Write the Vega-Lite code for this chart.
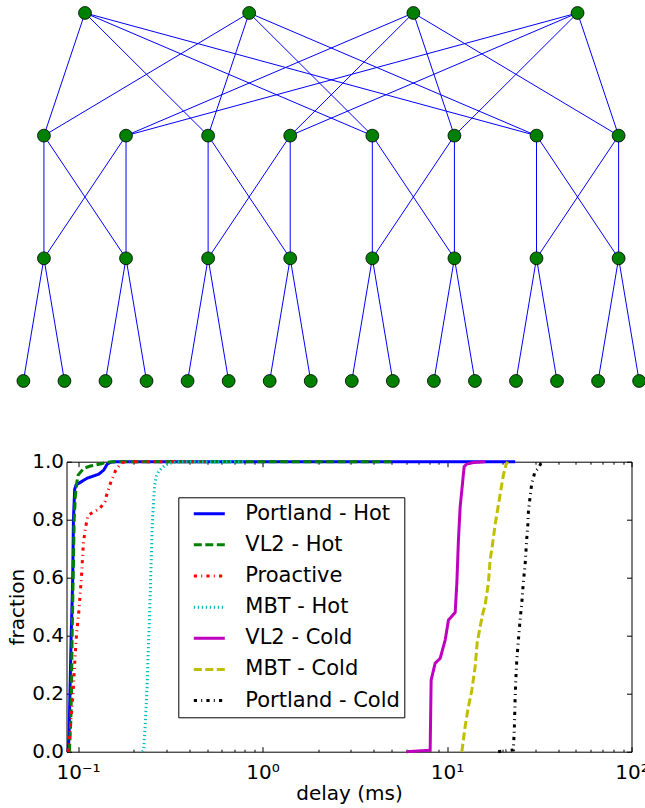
{
  "$schema": "https://vega.github.io/schema/vega-lite/v6.json",
  "width": 565,
  "height": 290,
  "autosize": {"type": "none"},
  "padding": {"left": 66.5, "top": 461.7, "right": 13.5, "bottom": 56.3},
  "background": "white",
  "config": {
    "font": "DejaVu Sans",
    "view": {"stroke": "black", "strokeWidth": 1},
    "axis": {"grid": false, "domain": false, "labelColor": "black", "titleColor": "black", "tickColor": "black", "tickWidth": 1, "labelFontSize": 20, "titleFontSize": 20, "titleFontWeight": "normal", "labelFont": "DejaVu Sans", "titleFont": "DejaVu Sans"}
  },
  "datasets": {
    "nodes": [
      {"pos": 1.5, "tier": 0}, {"pos": 5.5, "tier": 0}, {"pos": 9.5, "tier": 0}, {"pos": 13.5, "tier": 0},
      {"pos": 0.5, "tier": 1}, {"pos": 2.5, "tier": 1}, {"pos": 4.5, "tier": 1}, {"pos": 6.5, "tier": 1},
      {"pos": 8.5, "tier": 1}, {"pos": 10.5, "tier": 1}, {"pos": 12.5, "tier": 1}, {"pos": 14.5, "tier": 1},
      {"pos": 0.5, "tier": 2}, {"pos": 2.5, "tier": 2}, {"pos": 4.5, "tier": 2}, {"pos": 6.5, "tier": 2},
      {"pos": 8.5, "tier": 2}, {"pos": 10.5, "tier": 2}, {"pos": 12.5, "tier": 2}, {"pos": 14.5, "tier": 2},
      {"pos": 0, "tier": 3}, {"pos": 1, "tier": 3}, {"pos": 2, "tier": 3}, {"pos": 3, "tier": 3},
      {"pos": 4, "tier": 3}, {"pos": 5, "tier": 3}, {"pos": 6, "tier": 3}, {"pos": 7, "tier": 3},
      {"pos": 8, "tier": 3}, {"pos": 9, "tier": 3}, {"pos": 10, "tier": 3}, {"pos": 11, "tier": 3},
      {"pos": 12, "tier": 3}, {"pos": 13, "tier": 3}, {"pos": 14, "tier": 3}, {"pos": 15, "tier": 3}
    ],
    "links": [
      {"p1": 1.5, "t1": 0, "p2": 0.5, "t2": 1}, {"p1": 1.5, "t1": 0, "p2": 4.5, "t2": 1}, {"p1": 1.5, "t1": 0, "p2": 8.5, "t2": 1}, {"p1": 1.5, "t1": 0, "p2": 12.5, "t2": 1},
      {"p1": 5.5, "t1": 0, "p2": 0.5, "t2": 1}, {"p1": 5.5, "t1": 0, "p2": 4.5, "t2": 1}, {"p1": 5.5, "t1": 0, "p2": 8.5, "t2": 1}, {"p1": 5.5, "t1": 0, "p2": 12.5, "t2": 1},
      {"p1": 9.5, "t1": 0, "p2": 2.5, "t2": 1}, {"p1": 9.5, "t1": 0, "p2": 6.5, "t2": 1}, {"p1": 9.5, "t1": 0, "p2": 10.5, "t2": 1}, {"p1": 9.5, "t1": 0, "p2": 14.5, "t2": 1},
      {"p1": 13.5, "t1": 0, "p2": 2.5, "t2": 1}, {"p1": 13.5, "t1": 0, "p2": 6.5, "t2": 1}, {"p1": 13.5, "t1": 0, "p2": 10.5, "t2": 1}, {"p1": 13.5, "t1": 0, "p2": 14.5, "t2": 1},
      {"p1": 0.5, "t1": 1, "p2": 0.5, "t2": 2}, {"p1": 0.5, "t1": 1, "p2": 2.5, "t2": 2}, {"p1": 2.5, "t1": 1, "p2": 0.5, "t2": 2}, {"p1": 2.5, "t1": 1, "p2": 2.5, "t2": 2},
      {"p1": 4.5, "t1": 1, "p2": 4.5, "t2": 2}, {"p1": 4.5, "t1": 1, "p2": 6.5, "t2": 2}, {"p1": 6.5, "t1": 1, "p2": 4.5, "t2": 2}, {"p1": 6.5, "t1": 1, "p2": 6.5, "t2": 2},
      {"p1": 8.5, "t1": 1, "p2": 8.5, "t2": 2}, {"p1": 8.5, "t1": 1, "p2": 10.5, "t2": 2}, {"p1": 10.5, "t1": 1, "p2": 8.5, "t2": 2}, {"p1": 10.5, "t1": 1, "p2": 10.5, "t2": 2},
      {"p1": 12.5, "t1": 1, "p2": 12.5, "t2": 2}, {"p1": 12.5, "t1": 1, "p2": 14.5, "t2": 2}, {"p1": 14.5, "t1": 1, "p2": 12.5, "t2": 2}, {"p1": 14.5, "t1": 1, "p2": 14.5, "t2": 2},
      {"p1": 0.5, "t1": 2, "p2": 0, "t2": 3}, {"p1": 0.5, "t1": 2, "p2": 1, "t2": 3}, {"p1": 2.5, "t1": 2, "p2": 2, "t2": 3}, {"p1": 2.5, "t1": 2, "p2": 3, "t2": 3},
      {"p1": 4.5, "t1": 2, "p2": 4, "t2": 3}, {"p1": 4.5, "t1": 2, "p2": 5, "t2": 3}, {"p1": 6.5, "t1": 2, "p2": 6, "t2": 3}, {"p1": 6.5, "t1": 2, "p2": 7, "t2": 3},
      {"p1": 8.5, "t1": 2, "p2": 8, "t2": 3}, {"p1": 8.5, "t1": 2, "p2": 9, "t2": 3}, {"p1": 10.5, "t1": 2, "p2": 10, "t2": 3}, {"p1": 10.5, "t1": 2, "p2": 11, "t2": 3},
      {"p1": 12.5, "t1": 2, "p2": 12, "t2": 3}, {"p1": 12.5, "t1": 2, "p2": 13, "t2": 3}, {"p1": 14.5, "t1": 2, "p2": 14, "t2": 3}, {"p1": 14.5, "t1": 2, "p2": 15, "t2": 3}
    ],
    "cdf": [
      {"series": "Portland - Hot", "i": 0, "delay": 0.0881, "fraction": 0.0},
      {"series": "Portland - Hot", "i": 1, "delay": 0.0893, "fraction": 0.05},
      {"series": "Portland - Hot", "i": 2, "delay": 0.0903, "fraction": 0.2},
      {"series": "Portland - Hot", "i": 3, "delay": 0.0917, "fraction": 0.4},
      {"series": "Portland - Hot", "i": 4, "delay": 0.0928, "fraction": 0.52},
      {"series": "Portland - Hot", "i": 5, "delay": 0.0935, "fraction": 0.6},
      {"series": "Portland - Hot", "i": 6, "delay": 0.0943, "fraction": 0.8},
      {"series": "Portland - Hot", "i": 7, "delay": 0.0958, "fraction": 0.905},
      {"series": "Portland - Hot", "i": 8, "delay": 0.0975, "fraction": 0.92},
      {"series": "Portland - Hot", "i": 9, "delay": 0.1119, "fraction": 0.943},
      {"series": "Portland - Hot", "i": 10, "delay": 0.1293, "fraction": 0.957},
      {"series": "Portland - Hot", "i": 11, "delay": 0.1376, "fraction": 0.971},
      {"series": "Portland - Hot", "i": 12, "delay": 0.1436, "fraction": 0.991},
      {"series": "Portland - Hot", "i": 13, "delay": 0.1496, "fraction": 0.998},
      {"series": "Portland - Hot", "i": 14, "delay": 0.16, "fraction": 1.0},
      {"series": "Portland - Hot", "i": 15, "delay": 23.4, "fraction": 1.0},
      {"series": "VL2 - Hot", "i": 0, "delay": 0.0897, "fraction": 0.0},
      {"series": "VL2 - Hot", "i": 1, "delay": 0.0912, "fraction": 0.1},
      {"series": "VL2 - Hot", "i": 2, "delay": 0.092, "fraction": 0.2},
      {"series": "VL2 - Hot", "i": 3, "delay": 0.0928, "fraction": 0.4},
      {"series": "VL2 - Hot", "i": 4, "delay": 0.094, "fraction": 0.6},
      {"series": "VL2 - Hot", "i": 5, "delay": 0.0952, "fraction": 0.8},
      {"series": "VL2 - Hot", "i": 6, "delay": 0.0967, "fraction": 0.885},
      {"series": "VL2 - Hot", "i": 7, "delay": 0.0985, "fraction": 0.93},
      {"series": "VL2 - Hot", "i": 8, "delay": 0.1, "fraction": 0.954},
      {"series": "VL2 - Hot", "i": 9, "delay": 0.1072, "fraction": 0.977},
      {"series": "VL2 - Hot", "i": 10, "delay": 0.1166, "fraction": 0.985},
      {"series": "VL2 - Hot", "i": 11, "delay": 0.132, "fraction": 0.992},
      {"series": "VL2 - Hot", "i": 12, "delay": 0.14, "fraction": 0.997},
      {"series": "VL2 - Hot", "i": 13, "delay": 0.155, "fraction": 1.0},
      {"series": "VL2 - Hot", "i": 14, "delay": 5.0, "fraction": 1.0},
      {"series": "Proactive", "i": 0, "delay": 0.0881, "fraction": 0.0},
      {"series": "Proactive", "i": 1, "delay": 0.0889, "fraction": 0.02},
      {"series": "Proactive", "i": 2, "delay": 0.0908, "fraction": 0.09},
      {"series": "Proactive", "i": 3, "delay": 0.0939, "fraction": 0.2},
      {"series": "Proactive", "i": 4, "delay": 0.0955, "fraction": 0.29},
      {"series": "Proactive", "i": 5, "delay": 0.0979, "fraction": 0.4},
      {"series": "Proactive", "i": 6, "delay": 0.1008, "fraction": 0.48},
      {"series": "Proactive", "i": 7, "delay": 0.1042, "fraction": 0.6},
      {"series": "Proactive", "i": 8, "delay": 0.1068, "fraction": 0.72},
      {"series": "Proactive", "i": 9, "delay": 0.1095, "fraction": 0.77},
      {"series": "Proactive", "i": 10, "delay": 0.113, "fraction": 0.815},
      {"series": "Proactive", "i": 11, "delay": 0.1312, "fraction": 0.839},
      {"series": "Proactive", "i": 12, "delay": 0.1397, "fraction": 0.862},
      {"series": "Proactive", "i": 13, "delay": 0.1423, "fraction": 0.882},
      {"series": "Proactive", "i": 14, "delay": 0.1496, "fraction": 0.925},
      {"series": "Proactive", "i": 15, "delay": 0.1592, "fraction": 0.968},
      {"series": "Proactive", "i": 16, "delay": 0.1664, "fraction": 0.985},
      {"series": "Proactive", "i": 17, "delay": 0.1716, "fraction": 0.996},
      {"series": "Proactive", "i": 18, "delay": 0.18, "fraction": 1.0},
      {"series": "Proactive", "i": 19, "delay": 0.5, "fraction": 1.0},
      {"series": "MBT - Hot", "i": 0, "delay": 0.223, "fraction": 0.0},
      {"series": "MBT - Hot", "i": 1, "delay": 0.2266, "fraction": 0.006},
      {"series": "MBT - Hot", "i": 2, "delay": 0.2315, "fraction": 0.1},
      {"series": "MBT - Hot", "i": 3, "delay": 0.2364, "fraction": 0.22},
      {"series": "MBT - Hot", "i": 4, "delay": 0.2394, "fraction": 0.33},
      {"series": "MBT - Hot", "i": 5, "delay": 0.2433, "fraction": 0.45},
      {"series": "MBT - Hot", "i": 6, "delay": 0.2464, "fraction": 0.56},
      {"series": "MBT - Hot", "i": 7, "delay": 0.2495, "fraction": 0.68},
      {"series": "MBT - Hot", "i": 8, "delay": 0.2527, "fraction": 0.79},
      {"series": "MBT - Hot", "i": 9, "delay": 0.2567, "fraction": 0.87},
      {"series": "MBT - Hot", "i": 10, "delay": 0.26, "fraction": 0.92},
      {"series": "MBT - Hot", "i": 11, "delay": 0.2656, "fraction": 0.95},
      {"series": "MBT - Hot", "i": 12, "delay": 0.2733, "fraction": 0.966},
      {"series": "MBT - Hot", "i": 13, "delay": 0.2851, "fraction": 0.979},
      {"series": "MBT - Hot", "i": 14, "delay": 0.2971, "fraction": 0.988},
      {"series": "MBT - Hot", "i": 15, "delay": 0.3162, "fraction": 0.995},
      {"series": "MBT - Hot", "i": 16, "delay": 0.3581, "fraction": 1.0},
      {"series": "MBT - Hot", "i": 17, "delay": 0.8, "fraction": 1.0},
      {"series": "VL2 - Cold", "i": 0, "delay": 6.04, "fraction": 0.0},
      {"series": "VL2 - Cold", "i": 1, "delay": 8.1, "fraction": 0.005},
      {"series": "VL2 - Cold", "i": 2, "delay": 8.2, "fraction": 0.247},
      {"series": "VL2 - Cold", "i": 3, "delay": 8.62, "fraction": 0.305},
      {"series": "VL2 - Cold", "i": 4, "delay": 9.18, "fraction": 0.322},
      {"series": "VL2 - Cold", "i": 5, "delay": 9.77, "fraction": 0.385},
      {"series": "VL2 - Cold", "i": 6, "delay": 10.18, "fraction": 0.454},
      {"series": "VL2 - Cold", "i": 7, "delay": 11.07, "fraction": 0.48},
      {"series": "VL2 - Cold", "i": 8, "delay": 11.3, "fraction": 0.58},
      {"series": "VL2 - Cold", "i": 9, "delay": 11.53, "fraction": 0.73},
      {"series": "VL2 - Cold", "i": 10, "delay": 11.78, "fraction": 0.845},
      {"series": "VL2 - Cold", "i": 11, "delay": 12.03, "fraction": 0.902},
      {"series": "VL2 - Cold", "i": 12, "delay": 12.38, "fraction": 0.983},
      {"series": "VL2 - Cold", "i": 13, "delay": 12.8, "fraction": 0.992},
      {"series": "VL2 - Cold", "i": 14, "delay": 13.9, "fraction": 0.997},
      {"series": "VL2 - Cold", "i": 15, "delay": 16.08, "fraction": 1.0},
      {"series": "MBT - Cold", "i": 0, "delay": 12.03, "fraction": 0.0},
      {"series": "MBT - Cold", "i": 1, "delay": 12.53, "fraction": 0.086},
      {"series": "MBT - Cold", "i": 2, "delay": 12.96, "fraction": 0.144},
      {"series": "MBT - Cold", "i": 3, "delay": 13.63, "fraction": 0.213},
      {"series": "MBT - Cold", "i": 4, "delay": 14.2, "fraction": 0.293},
      {"series": "MBT - Cold", "i": 5, "delay": 14.56, "fraction": 0.374},
      {"series": "MBT - Cold", "i": 6, "delay": 15.11, "fraction": 0.431},
      {"series": "MBT - Cold", "i": 7, "delay": 15.63, "fraction": 0.477},
      {"series": "MBT - Cold", "i": 8, "delay": 16.08, "fraction": 0.506},
      {"series": "MBT - Cold", "i": 9, "delay": 16.76, "fraction": 0.581},
      {"series": "MBT - Cold", "i": 10, "delay": 17.12, "fraction": 0.661},
      {"series": "MBT - Cold", "i": 11, "delay": 17.62, "fraction": 0.713},
      {"series": "MBT - Cold", "i": 12, "delay": 18.22, "fraction": 0.782},
      {"series": "MBT - Cold", "i": 13, "delay": 18.85, "fraction": 0.839},
      {"series": "MBT - Cold", "i": 14, "delay": 19.64, "fraction": 0.908},
      {"series": "MBT - Cold", "i": 15, "delay": 20.21, "fraction": 0.954},
      {"series": "MBT - Cold", "i": 16, "delay": 20.9, "fraction": 0.991},
      {"series": "MBT - Cold", "i": 17, "delay": 21.35, "fraction": 1.0},
      {"series": "Portland - Cold", "i": 0, "delay": 18.92, "fraction": 0.0},
      {"series": "Portland - Cold", "i": 1, "delay": 22.89, "fraction": 0.006},
      {"series": "Portland - Cold", "i": 2, "delay": 23.18, "fraction": 0.086},
      {"series": "Portland - Cold", "i": 3, "delay": 23.38, "fraction": 0.178},
      {"series": "Portland - Cold", "i": 4, "delay": 23.59, "fraction": 0.247},
      {"series": "Portland - Cold", "i": 5, "delay": 23.88, "fraction": 0.316},
      {"series": "Portland - Cold", "i": 6, "delay": 24.37, "fraction": 0.385},
      {"series": "Portland - Cold", "i": 7, "delay": 24.89, "fraction": 0.454},
      {"series": "Portland - Cold", "i": 8, "delay": 25.42, "fraction": 0.512},
      {"series": "Portland - Cold", "i": 9, "delay": 25.94, "fraction": 0.586},
      {"series": "Portland - Cold", "i": 10, "delay": 26.49, "fraction": 0.644},
      {"series": "Portland - Cold", "i": 11, "delay": 27.06, "fraction": 0.736},
      {"series": "Portland - Cold", "i": 12, "delay": 27.4, "fraction": 0.782},
      {"series": "Portland - Cold", "i": 13, "delay": 27.61, "fraction": 0.828},
      {"series": "Portland - Cold", "i": 14, "delay": 28.2, "fraction": 0.879},
      {"series": "Portland - Cold", "i": 15, "delay": 28.8, "fraction": 0.926},
      {"series": "Portland - Cold", "i": 16, "delay": 30.01, "fraction": 0.966},
      {"series": "Portland - Cold", "i": 17, "delay": 31.27, "fraction": 0.977},
      {"series": "Portland - Cold", "i": 18, "delay": 32.23, "fraction": 0.994},
      {"series": "Portland - Cold", "i": 19, "delay": 32.75, "fraction": 1.0}
    ]
  },
  "layer": [
    {
      "layer": [
        {
          "data": {"name": "links"},
          "mark": {"type": "rule", "color": "#0000ff", "strokeWidth": 1},
          "encoding": {
            "x": {"field": "p1", "type": "quantitative", "scale": {"domain": [1.05, 14.814], "nice": false, "zero": false}, "axis": null},
            "x2": {"field": "p2"},
            "y": {"field": "t1", "type": "quantitative", "scale": {"domain": [3.658, 6.022], "reverse": true, "nice": false, "zero": false}, "axis": null},
            "y2": {"field": "t2"}
          }
        },
        {
          "data": {"name": "nodes"},
          "mark": {"type": "point", "shape": "circle", "filled": true, "fill": "#008000", "stroke": "black", "strokeWidth": 0.8, "size": 165, "opacity": 1},
          "encoding": {
            "x": {"field": "pos", "type": "quantitative", "axis": null},
            "y": {"field": "tier", "type": "quantitative", "axis": null}
          }
        }
      ]
    },
    {
      "data": {"name": "cdf"},
      "layer": [
        {
          "mark": {"type": "line", "strokeWidth": 3, "strokeCap": "butt"},
          "encoding": {
            "x": {
              "field": "delay", "type": "quantitative",
              "scale": {"type": "log", "domain": [0.0865, 100], "nice": false},
              "axis": {
                "orient": "bottom",
                "title": "delay (ms)",
                "values": [0.1, 0.2, 0.3, 0.4, 0.5, 0.6, 0.7, 0.8, 0.9, 1, 2, 3, 4, 5, 6, 7, 8, 9, 10, 20, 30, 40, 50, 60, 70, 80, 90, 100],
                "labelExpr": "abs(log(datum.value)/LN10 - round(log(datum.value)/LN10)) > 0.001 ? '' : (round(log(datum.value)/LN10) == -1 ? '10⁻¹' : round(log(datum.value)/LN10) == 0 ? '10⁰' : round(log(datum.value)/LN10) == 1 ? '10¹' : '10²')",
                "tickSize": {"condition": {"test": "abs(log(datum.value)/LN10 - round(log(datum.value)/LN10)) < 0.001", "value": -5}, "value": -2.5},
                "labelFlush": false,
                "labelOverlap": false,
                "labelPadding": 16,
                "titlePadding": -2
              }
            },
            "y": {
              "field": "fraction", "type": "quantitative",
              "scale": {"domain": [0, 1], "nice": false},
              "axis": {"orient": "left", "title": "fraction", "values": [0, 0.2, 0.4, 0.6, 0.8, 1.0], "format": ".1f", "tickSize": -5, "labelPadding": 8, "titlePadding": 4}
            },
            "color": {
              "field": "series", "type": "nominal",
              "scale": {
                "domain": ["Portland - Hot", "VL2 - Hot", "Proactive", "MBT - Hot", "VL2 - Cold", "MBT - Cold", "Portland - Cold"],
                "range": ["#0000ff", "#008000", "#ff0000", "#00bfbf", "#bf00bf", "#bfbf00", "#000000"]
              },
              "legend": {
                "orient": "none", "legendX": 111.8, "legendY": 35.6, "title": null,
                "symbolType": "stroke", "symbolSize": 961, "symbolStrokeWidth": 3, "symbolOffset": 9.6,
                "labelFontSize": 21, "labelFont": "DejaVu Sans", "labelColor": "black", "labelOffset": 19, "labelLimit": 300,
                "padding": 4.4, "clipHeight": 24, "rowPadding": 7.15, "strokeColor": "black", "fillColor": "white"
              }
            },
            "strokeDash": {
              "field": "series", "type": "nominal",
              "scale": {
                "domain": ["Portland - Hot", "VL2 - Hot", "Proactive", "MBT - Hot", "VL2 - Cold", "MBT - Cold", "Portland - Cold"],
                "range": [[1, 0], [8, 3.5], [3.2, 4.2, 1, 4.2], [1.3, 2.7], [1, 0], [8, 3.5], [3.2, 4.2, 1, 4.2]]
              }
            },
            "order": {"field": "i", "type": "quantitative"}
          }
        },
        {
          "mark": {"type": "line", "opacity": 0},
          "encoding": {
            "x": {
              "field": "delay", "type": "quantitative",
              "axis": {
                "orient": "top", "title": null, "labels": false,
                "values": [0.1, 0.2, 0.3, 0.4, 0.5, 0.6, 0.7, 0.8, 0.9, 1, 2, 3, 4, 5, 6, 7, 8, 9, 10, 20, 30, 40, 50, 60, 70, 80, 90, 100],
                "tickSize": {"condition": {"test": "abs(log(datum.value)/LN10 - round(log(datum.value)/LN10)) < 0.001", "value": -5}, "value": -2.5}
              }
            },
            "y": {
              "field": "fraction", "type": "quantitative",
              "axis": {"orient": "right", "title": null, "labels": false, "values": [0, 0.2, 0.4, 0.6, 0.8, 1.0], "tickSize": -5}
            },
            "detail": {"field": "series", "type": "nominal"},
            "order": {"field": "i", "type": "quantitative"}
          }
        }
      ],
      "resolve": {"axis": {"x": "independent", "y": "independent"}}
    }
  ],
  "resolve": {"scale": {"x": "independent", "y": "independent"}}
}
